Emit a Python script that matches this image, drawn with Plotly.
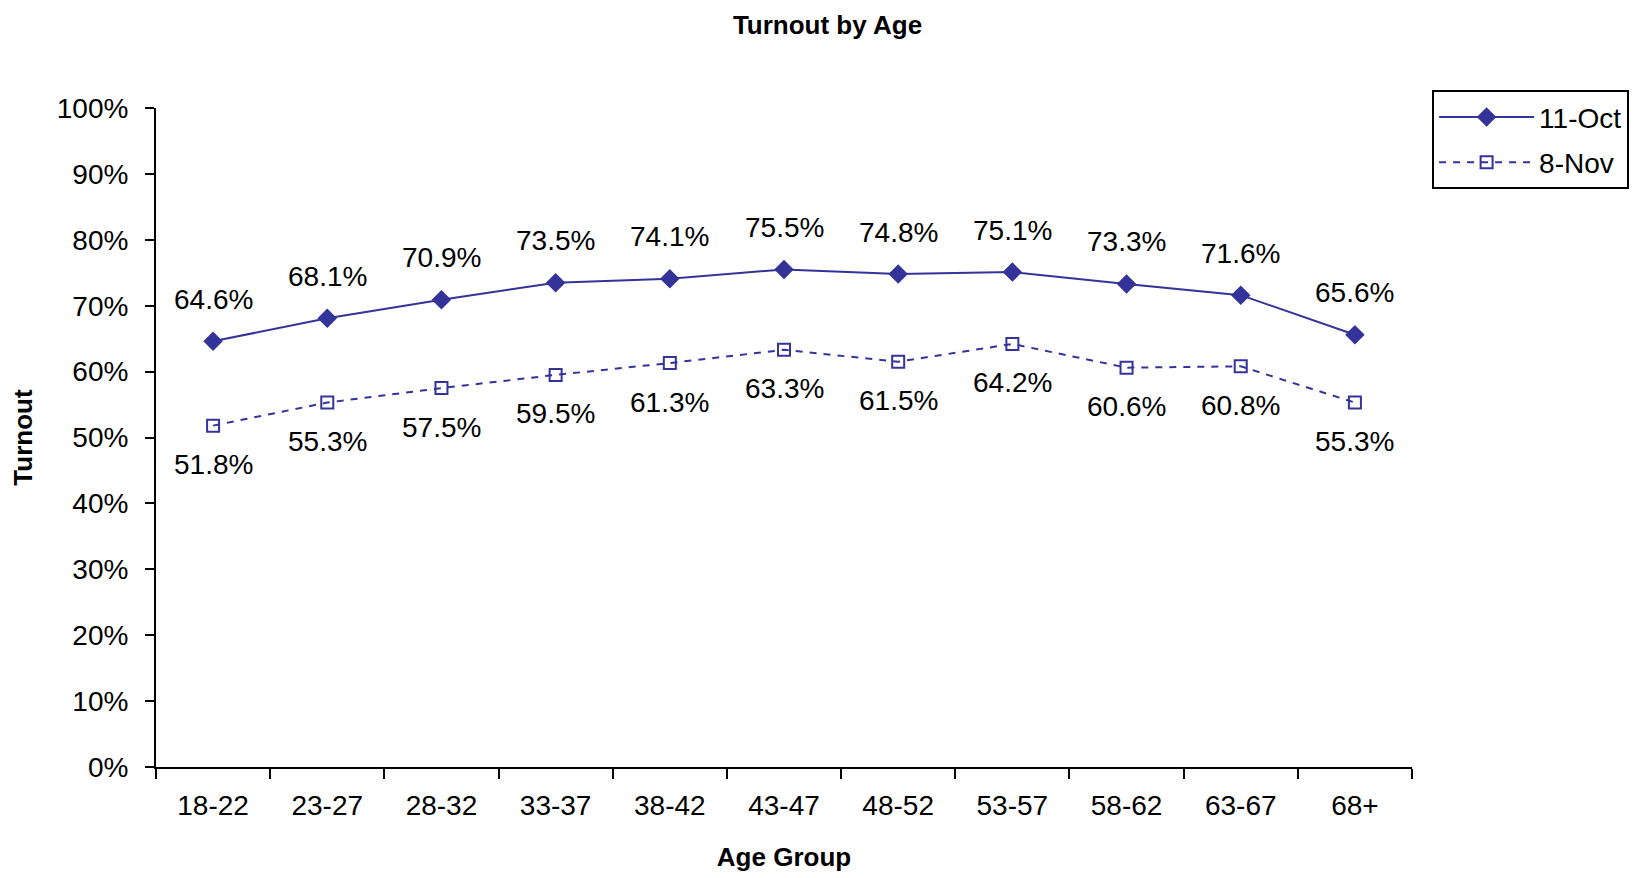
import plotly.graph_objects as go

# Données
age_groups = ["18-22", "23-27", "28-32", "33-37", "38-42", "43-47",
              "48-52", "53-57", "58-62", "63-67", "68+"]
turnout_oct = [64.6, 68.1, 70.9, 73.5, 74.1, 75.5, 74.8, 75.1, 73.3, 71.6, 65.6]
turnout_nov = [51.8, 55.3, 57.5, 59.5, 61.3, 63.3, 61.5, 64.2, 60.6, 60.8, 55.3]
y_ticks = list(range(0, 101, 10))
y_labels = [f"{t}%" for t in y_ticks]

NAVY = "#333399"
FONT = "Liberation Sans, Arial, sans-serif"

fig = go.Figure()

fig.add_trace(go.Scatter(
    x=age_groups, y=turnout_oct, name="11-Oct", mode="lines+markers",
    legendgroup="oct",
    line=dict(color=NAVY, width=2),
    marker=dict(symbol="diamond", size=15, color=NAVY),
))
fig.add_trace(go.Scatter(
    x=age_groups, y=turnout_nov, name="8-Nov", mode="lines+markers",
    legendgroup="nov",
    line=dict(color=NAVY, width=2, dash="7px,7px"),
    marker=dict(symbol="square-open", size=12, color=NAVY, line=dict(width=2)),
))

# étiquettes de valeurs : au-dessus pour oct, en dessous pour nov
for cat, v in zip(age_groups, turnout_oct):
    fig.add_annotation(x=cat, y=v, text=f"{v:.1f}%", showarrow=False, yshift=42,
                       font=dict(size=28, color="black", family=FONT))
for cat, v in zip(age_groups, turnout_nov):
    fig.add_annotation(x=cat, y=v, text=f"{v:.1f}%", showarrow=False, yshift=-39,
                       font=dict(size=28, color="black", family=FONT))

fig.update_layout(
    width=1639, height=878,
    paper_bgcolor="white", plot_bgcolor="white",
    font=dict(family=FONT, color="black", size=28),
    title=dict(text="<b>Turnout by Age</b>", x=0.5, xref="container", xanchor="center",
               y=0.981, yanchor="middle", font=dict(size=26)),
    margin=dict(l=146, r=235, t=100, b=119),
    showlegend=True,
    legend=dict(x=1.016, y=1.027, xanchor="left", yanchor="top",
                bordercolor="black", borderwidth=2, bgcolor="white",
                font=dict(size=28), itemwidth=95, tracegroupgap=6),
)

fig.update_xaxes(
    title=dict(text="<b>Age Group</b>", font=dict(size=26), standoff=28),
    showline=True, linecolor="black", linewidth=2,
    ticks="outside", tickson="boundaries", ticklen=10, tickwidth=2, tickcolor="black",
    ticklabelstandoff=12,
    showgrid=False, range=[-0.5, 10.5], tickfont=dict(size=28),
)
fig.update_yaxes(
    title=dict(text="<b>Turnout</b>", font=dict(size=26), standoff=19),
    showline=True, linecolor="black", linewidth=2,
    ticks="outside", ticklen=9, tickwidth=2, tickcolor="black",
    ticklabelstandoff=11,
    showgrid=False, zeroline=False, range=[0, 100],
    tickvals=y_ticks, ticktext=y_labels, tickfont=dict(size=28),
)

fig.write_html("out.html")
